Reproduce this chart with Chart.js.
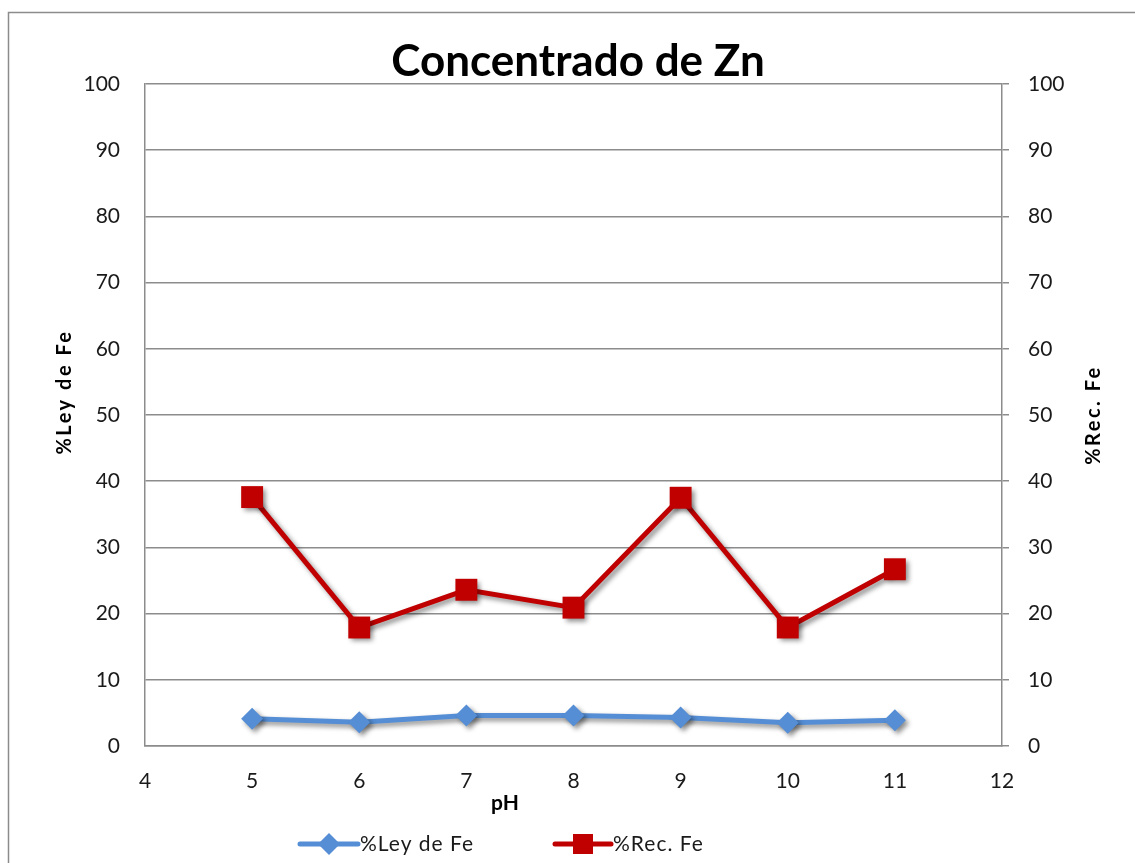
<!DOCTYPE html>
<html>
<head>
<meta charset="utf-8">
<title>Concentrado de Zn</title>
<script src="https://cdn.jsdelivr.net/npm/chart.js@4.4.1/dist/chart.umd.min.js"></script>
<style>
  html, body { margin: 0; padding: 0; background: #fff; overflow: hidden; }
  #wrap { position: relative; width: 1135px; height: 863px; }
</style>
</head>
<body>
<div id="wrap"><canvas id="c" width="1135" height="863"></canvas></div>
<script>
// pH values and measured series
const phValues = [5, 6, 7, 8, 9, 10, 11];
const leyFe = [4.1, 3.6, 4.6, 4.6, 4.3, 3.5, 3.9];
const recFe = [37.6, 17.9, 23.6, 20.9, 37.5, 17.9, 26.7];

const chartTitle = 'Concentrado de Zn';
const xTitle = 'pH';
const yLeftTitle = '%Ley de Fe';
const yRightTitle = '%Rec. Fe';
const seriesNames = ['%Ley de Fe', '%Rec. Fe'];

const FONT = 'Lato, "Open Sans", sans-serif';
const GRAY = '#8c8c8c';
const BLUE = '#558ED5';
const RED = '#C00000';
const TEXT = '#1a1a1a';

const toPoints = (ys) => phValues.map((x, i) => ({ x, y: ys[i] }));

// soft drop shadow under the series lines and markers
const shadowPlugin = {
  id: 'shadow',
  beforeDatasetDraw(chart) {
    const ctx = chart.ctx;
    ctx.save();
    ctx.shadowColor = 'rgba(0,0,0,0.45)';
    ctx.shadowBlur = 5;
    ctx.shadowOffsetX = 3;
    ctx.shadowOffsetY = 3;
  },
  afterDatasetDraw(chart) {
    chart.ctx.restore();
  }
};

// outer frame, title, axis titles and legend
const decorPlugin = {
  id: 'decor',
  afterDraw(chart) {
    const ctx = chart.ctx;
    ctx.save();

    // frame
    ctx.strokeStyle = GRAY;
    ctx.lineWidth = 1.5;
    ctx.beginPath();
    ctx.moveTo(8.5, 870);
    ctx.lineTo(8.5, 12.5);
    ctx.lineTo(1140, 12.5);
    ctx.stroke();

    ctx.fillStyle = '#000';
    ctx.textAlign = 'center';
    ctx.textBaseline = 'middle';

    // title
    ctx.font = 'bold 44px ' + FONT;
    ctx.fillText(chartTitle, 578, 62);

    // x title
    ctx.font = 'bold 21px ' + FONT;
    ctx.fillText(xTitle, 505, 803);

    // y titles, read bottom to top
    ctx.font = 'bold 20px ' + FONT;
    ctx.letterSpacing = '2.5px';
    ctx.save();
    ctx.translate(65, 392);
    ctx.rotate(-Math.PI / 2);
    ctx.fillText(yLeftTitle, 0, 0);
    ctx.restore();

    ctx.save();
    ctx.translate(1094, 415);
    ctx.rotate(-Math.PI / 2);
    ctx.fillText(yRightTitle, 0, 0);
    ctx.restore();

    // legend
    const ly = 844;
    const items = [
      { x0: 300, x1: 358, ds: chart.data.datasets[0] },
      { x0: 555, x1: 611, ds: chart.data.datasets[1] }
    ];
    ctx.font = '21px ' + FONT;
    ctx.letterSpacing = '1px';
    ctx.textAlign = 'left';
    items.forEach((it) => {
      ctx.strokeStyle = it.ds.borderColor;
      ctx.lineWidth = 5;
      ctx.lineCap = 'round';
      ctx.beginPath();
      ctx.moveTo(it.x0, ly);
      ctx.lineTo(it.x1, ly);
      ctx.stroke();
      const cx = (it.x0 + it.x1) / 2;
      ctx.fillStyle = it.ds.pointBackgroundColor;
      const r = it.ds.pointStyle === 'rect' ? 10 : 11;
      ctx.beginPath();
      if (it.ds.pointStyle === 'rect') {
        ctx.rect(cx - r, ly - r, 2 * r, 2 * r);
      } else {
        ctx.moveTo(cx, ly - r);
        ctx.lineTo(cx + r, ly);
        ctx.lineTo(cx, ly + r);
        ctx.lineTo(cx - r, ly);
        ctx.closePath();
      }
      ctx.fill();
      ctx.fillStyle = TEXT;
      ctx.fillText(it.ds.label, it.x1 + 2, ly);
    });

    ctx.restore();
  }
};

new Chart(document.getElementById('c'), {
  type: 'line',
  data: {
    datasets: [
      {
        label: seriesNames[0],
        data: toPoints(leyFe),
        yAxisID: 'y',
        borderColor: BLUE,
        backgroundColor: BLUE,
        pointBackgroundColor: BLUE,
        pointBorderColor: BLUE,
        borderWidth: 5,
        pointStyle: 'rectRot',
        pointRadius: 11,
        pointBorderWidth: 0,
        tension: 0
      },
      {
        label: seriesNames[1],
        data: toPoints(recFe),
        yAxisID: 'y1',
        borderColor: RED,
        backgroundColor: RED,
        pointBackgroundColor: RED,
        pointBorderColor: RED,
        borderWidth: 5,
        pointStyle: 'rect',
        pointRadius: 15.5,
        pointBorderWidth: 0,
        tension: 0
      }
    ]
  },
  options: {
    responsive: false,
    animation: false,
    events: [],
    layout: { padding: { top: 84, bottom: 69, left: 0, right: 0 } },
    plugins: {
      legend: { display: false },
      title: { display: false },
      tooltip: { enabled: false }
    },
    scales: {
      x: {
        type: 'linear',
        min: 4,
        max: 12,
        ticks: { stepSize: 1, padding: 23, autoSkip: false, maxRotation: 0, color: TEXT, font: { family: FONT, size: 21 } },
        grid: { display: false, drawTicks: false },
        border: { display: true, color: GRAY, width: 1.5 },
        afterFit(scale) { scale.height = 48; }
      },
      y: {
        position: 'left',
        min: 0,
        max: 100,
        ticks: { stepSize: 10, padding: 25, color: TEXT, font: { family: FONT, size: 21 } },
        grid: { color: GRAY, lineWidth: 1.5, drawTicks: false },
        border: { display: true, color: GRAY, width: 1.5 },
        afterFit(scale) { scale.width = 145; }
      },
      y1: {
        position: 'right',
        min: 0,
        max: 100,
        ticks: { stepSize: 10, padding: 19, color: TEXT, font: { family: FONT, size: 21 } },
        grid: { drawOnChartArea: false, color: GRAY, lineWidth: 1.5, tickLength: 7 },
        border: { display: true, color: GRAY, width: 1.5 },
        afterFit(scale) { scale.width = 133; }
      }
    }
  },
  plugins: [shadowPlugin, decorPlugin]
});
</script>
</body>
</html>
